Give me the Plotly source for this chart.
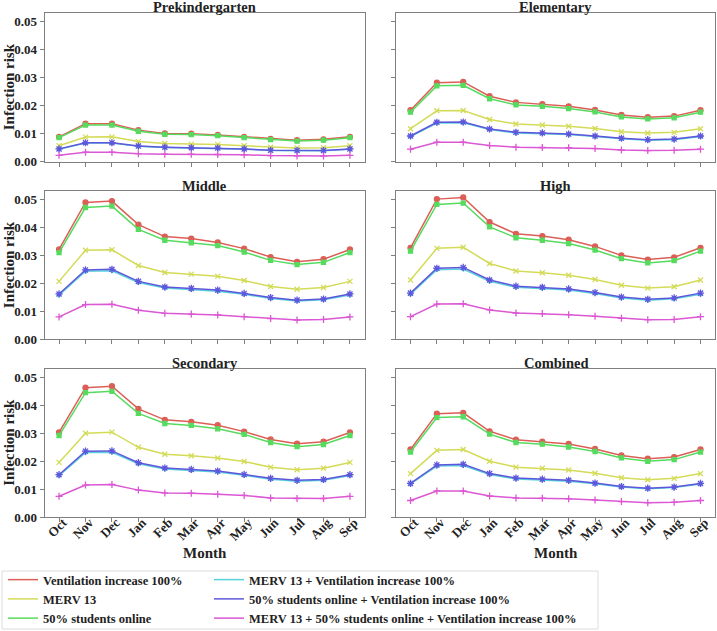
import plotly.graph_objects as go

months = ["Oct", "Nov", "Dec", "Jan", "Feb", "Mar", "Apr", "May", "Jun", "Jul", "Aug", "Sep"]

scenario_names = [
    "Ventilation increase 100%",
    "MERV 13",
    "50% students online",
    "MERV 13 + Ventilation increase 100%",
    "50% students online + Ventilation increase 100%",
    "MERV 13 + 50% students online + Ventilation increase 100%",
]

panel_titles = ["Prekindergarten", "Elementary", "Middle", "High", "Secondary", "Combined"]
y_ticks = [0.00, 0.01, 0.02, 0.03, 0.04, 0.05]

# Prekindergarten
prek_vent = [0.0088, 0.0135, 0.0135, 0.0112, 0.0100, 0.0099, 0.0095, 0.0088, 0.0081, 0.0076, 0.0079, 0.0088]
prek_merv = [0.0056, 0.0087, 0.0088, 0.0071, 0.0064, 0.0062, 0.0061, 0.0056, 0.0051, 0.0048, 0.0049, 0.0056]
prek_online = [0.0085, 0.0130, 0.0130, 0.0108, 0.0097, 0.0096, 0.0092, 0.0085, 0.0078, 0.0073, 0.0076, 0.0085]
prek_merv_vent = [0.0044, 0.0066, 0.0066, 0.0054, 0.0050, 0.0048, 0.0047, 0.0044, 0.0039, 0.0038, 0.0038, 0.0044]
prek_online_vent = [0.0045, 0.0067, 0.0067, 0.0055, 0.0051, 0.0049, 0.0048, 0.0045, 0.0040, 0.0039, 0.0039, 0.0045]
prek_all = [0.0022, 0.0033, 0.0033, 0.0028, 0.0026, 0.0026, 0.0025, 0.0024, 0.0021, 0.0020, 0.0020, 0.0022]

# Elementary
elem_vent = [0.0183, 0.0281, 0.0284, 0.0233, 0.0211, 0.0205, 0.0197, 0.0184, 0.0166, 0.0158, 0.0162, 0.0183]
elem_merv = [0.0117, 0.0181, 0.0182, 0.0150, 0.0134, 0.0130, 0.0126, 0.0118, 0.0106, 0.0102, 0.0104, 0.0117]
elem_online = [0.0176, 0.0270, 0.0272, 0.0224, 0.0202, 0.0197, 0.0189, 0.0177, 0.0159, 0.0152, 0.0156, 0.0176]
elem_merv_vent = [0.0089, 0.0137, 0.0138, 0.0114, 0.0102, 0.0100, 0.0096, 0.0089, 0.0081, 0.0076, 0.0078, 0.0089]
elem_online_vent = [0.0091, 0.0140, 0.0141, 0.0116, 0.0104, 0.0102, 0.0098, 0.0091, 0.0083, 0.0078, 0.0080, 0.0091]
elem_all = [0.0044, 0.0069, 0.0069, 0.0057, 0.0051, 0.0050, 0.0049, 0.0046, 0.0041, 0.0039, 0.0040, 0.0044]

# Middle
mid_vent = [0.0321, 0.0489, 0.0494, 0.0410, 0.0367, 0.0360, 0.0346, 0.0324, 0.0294, 0.0277, 0.0286, 0.0321]
mid_merv = [0.0207, 0.0318, 0.0320, 0.0264, 0.0239, 0.0233, 0.0225, 0.0210, 0.0189, 0.0179, 0.0185, 0.0207]
mid_online = [0.0310, 0.0471, 0.0476, 0.0393, 0.0354, 0.0345, 0.0335, 0.0312, 0.0282, 0.0267, 0.0275, 0.0310]
mid_merv_vent = [0.0158, 0.0243, 0.0245, 0.0203, 0.0183, 0.0178, 0.0172, 0.0161, 0.0146, 0.0137, 0.0141, 0.0158]
mid_online_vent = [0.0162, 0.0248, 0.0250, 0.0207, 0.0187, 0.0182, 0.0176, 0.0164, 0.0149, 0.0140, 0.0144, 0.0162]
mid_all = [0.0080, 0.0124, 0.0125, 0.0104, 0.0093, 0.0090, 0.0087, 0.0081, 0.0074, 0.0069, 0.0071, 0.0080]

# High
high_vent = [0.0327, 0.0501, 0.0507, 0.0419, 0.0377, 0.0369, 0.0356, 0.0332, 0.0300, 0.0285, 0.0293, 0.0327]
high_merv = [0.0212, 0.0325, 0.0329, 0.0271, 0.0244, 0.0238, 0.0229, 0.0214, 0.0193, 0.0183, 0.0188, 0.0212]
high_online = [0.0315, 0.0482, 0.0487, 0.0402, 0.0363, 0.0354, 0.0342, 0.0319, 0.0288, 0.0273, 0.0281, 0.0315]
high_merv_vent = [0.0161, 0.0249, 0.0251, 0.0207, 0.0186, 0.0182, 0.0176, 0.0164, 0.0148, 0.0140, 0.0145, 0.0161]
high_online_vent = [0.0165, 0.0254, 0.0257, 0.0212, 0.0190, 0.0186, 0.0180, 0.0167, 0.0151, 0.0143, 0.0148, 0.0165]
high_all = [0.0081, 0.0126, 0.0127, 0.0105, 0.0094, 0.0092, 0.0088, 0.0082, 0.0075, 0.0070, 0.0071, 0.0081]

# Secondary
sec_vent = [0.0302, 0.0462, 0.0467, 0.0386, 0.0347, 0.0340, 0.0328, 0.0305, 0.0277, 0.0262, 0.0269, 0.0302]
sec_merv = [0.0195, 0.0299, 0.0303, 0.0249, 0.0224, 0.0219, 0.0211, 0.0198, 0.0178, 0.0169, 0.0174, 0.0195]
sec_online = [0.0291, 0.0444, 0.0449, 0.0370, 0.0334, 0.0327, 0.0315, 0.0295, 0.0266, 0.0251, 0.0259, 0.0291]
sec_merv_vent = [0.0148, 0.0230, 0.0231, 0.0190, 0.0171, 0.0167, 0.0161, 0.0149, 0.0135, 0.0128, 0.0131, 0.0148]
sec_online_vent = [0.0151, 0.0235, 0.0236, 0.0194, 0.0175, 0.0170, 0.0164, 0.0152, 0.0138, 0.0131, 0.0134, 0.0151]
sec_all = [0.0074, 0.0114, 0.0116, 0.0096, 0.0086, 0.0085, 0.0081, 0.0077, 0.0068, 0.0066, 0.0066, 0.0074]

# Combined
comb_vent = [0.0241, 0.0369, 0.0372, 0.0306, 0.0276, 0.0269, 0.0261, 0.0243, 0.0220, 0.0208, 0.0214, 0.0241]
comb_merv = [0.0155, 0.0238, 0.0241, 0.0199, 0.0178, 0.0174, 0.0168, 0.0156, 0.0140, 0.0133, 0.0138, 0.0155]
comb_online = [0.0232, 0.0355, 0.0358, 0.0296, 0.0266, 0.0260, 0.0250, 0.0234, 0.0211, 0.0199, 0.0205, 0.0232]
comb_merv_vent = [0.0118, 0.0182, 0.0184, 0.0152, 0.0136, 0.0132, 0.0128, 0.0119, 0.0107, 0.0101, 0.0105, 0.0118]
comb_online_vent = [0.0120, 0.0186, 0.0188, 0.0155, 0.0139, 0.0135, 0.0131, 0.0121, 0.0109, 0.0103, 0.0107, 0.0120]
comb_all = [0.0059, 0.0093, 0.0093, 0.0075, 0.0068, 0.0067, 0.0065, 0.0061, 0.0055, 0.0051, 0.0053, 0.0059]

panel_series = [
    [prek_vent, prek_merv, prek_online, prek_merv_vent, prek_online_vent, prek_all],
    [elem_vent, elem_merv, elem_online, elem_merv_vent, elem_online_vent, elem_all],
    [mid_vent, mid_merv, mid_online, mid_merv_vent, mid_online_vent, mid_all],
    [high_vent, high_merv, high_online, high_merv_vent, high_online_vent, high_all],
    [sec_vent, sec_merv, sec_online, sec_merv_vent, sec_online_vent, sec_all],
    [comb_vent, comb_merv, comb_online, comb_merv_vent, comb_online_vent, comb_all],
]

# ---- style ----
W, H = 717, 631
colors = ["#db5f57", "#d3db57", "#57db5f", "#57d3db", "#5f57db", "#db57d3"]
symbols = ["circle", "x-thin", "square", "diamond", "asterisk", "cross-thin"]
msizes = [5, 5, 4, 3, 6, 5]
FONT = "Liberation Serif, Times New Roman, serif"

col_px = [(44.5, 364.5), (396, 715)]
row_px = [(13, 161.5), (191, 339.3), (368.6, 517)]


def px_x(v):
    return v / W


def px_y(v):
    return 1 - v / H


fig = go.Figure()

for p in range(6):
    r, c = divmod(p, 2)
    ax = "" if p == 0 else str(p + 1)
    for s in range(6):
        fig.add_trace(go.Scatter(
            x=months, y=panel_series[p][s], mode="lines+markers",
            name=scenario_names[s],
            line=dict(color=colors[s], width=1.5),
            marker=dict(symbol=symbols[s], size=msizes[s], color=colors[s],
                        line=dict(color=colors[s], width=1.3)),
            xaxis="x" + ax, yaxis="y" + ax,
            showlegend=False,
        ))

    axis_common = dict(showline=True, mirror=True, linecolor="#7f7f7f", linewidth=1,
                       ticks="outside", ticklen=4, tickcolor="#7f7f7f", tickwidth=1,
                       showgrid=False, zeroline=False,
                       tickfont=dict(family=FONT, size=13, color="#222", weight="bold"))
    fig.layout["xaxis" + ax] = dict(
        axis_common,
        domain=[px_x(col_px[c][0]), px_x(col_px[c][1])],
        anchor="y" + ax, type="category", range=[-0.55, 11.55],
        tickangle=-45, showticklabels=(r == 2),
        ticklabelstandoff=-12, ticklabelshift=4,
    )
    fig.layout["yaxis" + ax] = dict(
        axis_common,
        domain=[px_y(row_px[r][1]), px_y(row_px[r][0])],
        anchor="x" + ax, range=[0, 0.053], tickvals=y_ticks, tickformat=".2f",
        showticklabels=(c == 0),
    )

    fig.add_annotation(
        text=panel_titles[p], xref="paper", yref="paper",
        x=px_x((col_px[c][0] + col_px[c][1]) / 2), y=px_y(row_px[r][0] - 5.5),
        xanchor="center", yanchor="middle", showarrow=False,
        font=dict(family=FONT, size=14.5, color="#222", weight="bold"),
    )
    if c == 0:
        fig.add_annotation(
            text="Infection risk", xref="paper", yref="paper",
            x=px_x(9), y=px_y((row_px[r][0] + row_px[r][1]) / 2),
            xanchor="center", yanchor="middle", textangle=-90, showarrow=False,
            font=dict(family=FONT, size=15, color="#222", weight="bold"),
        )
    if r == 2:
        fig.add_annotation(
            text="Month", xref="paper", yref="paper",
            x=px_x((col_px[c][0] + col_px[c][1]) / 2), y=px_y(553),
            xanchor="center", yanchor="middle", showarrow=False,
            font=dict(family=FONT, size=15, color="#222", weight="bold"),
        )

# legend-only entries (lines only, as in the reference legend)
for s in range(6):
    fig.add_trace(go.Scatter(
        x=[None], y=[None], mode="lines", name=scenario_names[s],
        line=dict(color=colors[s], width=1.5),
        legend="legend" if s < 3 else "legend2", showlegend=True,
    ))

fig.add_shape(type="rect", xref="paper", yref="paper",
              x0=px_x(2), x1=px_x(598), y0=px_y(629), y1=px_y(571),
              line=dict(color="#dcdcdc", width=1), fillcolor="white", layer="below")

legend_common = dict(xanchor="left", yanchor="top", bgcolor="rgba(0,0,0,0)",
                     borderwidth=0, tracegroupgap=0,
                     font=dict(family=FONT, size=12.5, color="#222", weight="bold"))

fig.update_layout(
    width=W, height=H,
    margin=dict(l=0, r=0, t=0, b=0, autoexpand=False),
    paper_bgcolor="white", plot_bgcolor="white",
    font=dict(family=FONT, color="#222"),
    legend=dict(legend_common, x=px_x(3), y=px_y(565)),
    legend2=dict(legend_common, x=px_x(209), y=px_y(565)),
)

fig.write_html("out.html", config={"displayModeBar": False},
               post_script="document.body.style.margin='0';")
